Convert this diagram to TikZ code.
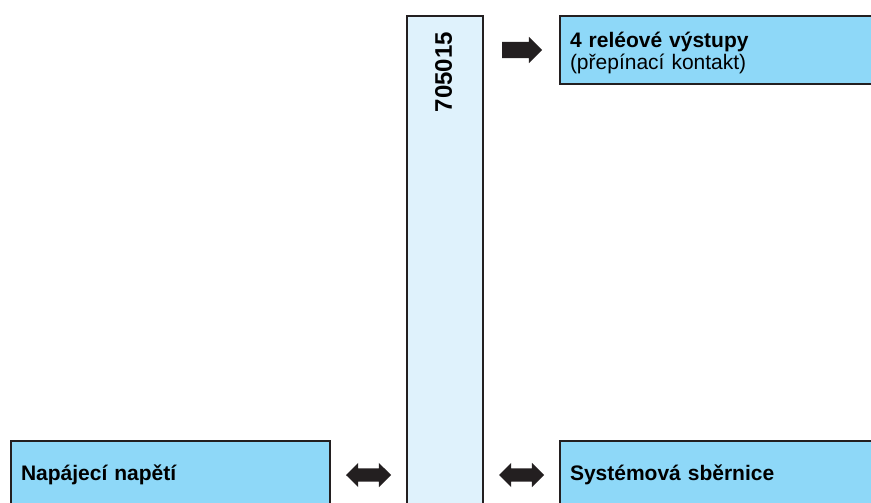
\documentclass[tikz,border=0pt]{standalone}
\usepackage{fontspec}
\setmainfont{Liberation Sans}
\usetikzlibrary{positioning}
\usetikzlibrary{shapes.arrows}
\definecolor{boxblue}{RGB}{142,216,248}
\definecolor{paleblue}{RGB}{223,242,252}
\definecolor{inkdark}{RGB}{35,31,32}
\tikzset{
  infobox/.style={draw=inkdark,line width=2pt,fill=boxblue,anchor=north west,
    minimum width=321pt,minimum height=68pt,text width=301pt,inner sep=10pt,
    align=left,font=\fontsize{21}{21.5}\selectfont},
  onearrow/.style={single arrow,fill=inkdark,minimum height=40pt,inner xsep=0pt,
    inner ysep=8pt,single arrow head extend=5pt,single arrow head indent=0pt},
  twoarrow/.style={double arrow,fill=inkdark,minimum height=45pt,inner xsep=0pt,
    inner ysep=6.5pt,double arrow head extend=5.5pt}
}
\begin{document}
\begin{tikzpicture}[line join=miter,x=1pt,y=-1pt]
            \useasboundingbox (0,0) rectangle (871,503);

            % module column
            \node [draw=inkdark,line width=2pt,fill=paleblue,anchor=north west,
                   minimum width=76pt,minimum height=500pt] (modul) at (406,15) {};
            \node [rotate=90,anchor=east,inner sep=0pt,
                   font=\fontsize{24}{24}\selectfont\bfseries] (typ) at (443.5,32) {705015};

            % boxes
            \node [infobox] (rele) at (559,15) {\rule{0pt}{21pt}\textbf{4 reléové výstupy}\\(přepínací kontakt)};
            \node [infobox,minimum width=319pt,text width=299pt] (napajeni) at (10,440) {\textbf{Napájecí napětí}};
            \node [infobox] (sbernice) at (559,440) {\textbf{Systémová sběrnice}};

            % block arrows
            \node [onearrow] (out) at (518,50) {};
            \node [twoarrow] (pwr) at (368.5,475) {};
            \node [twoarrow] (bus) at (521.5,475) {};
        \end{tikzpicture}
\end{document}
